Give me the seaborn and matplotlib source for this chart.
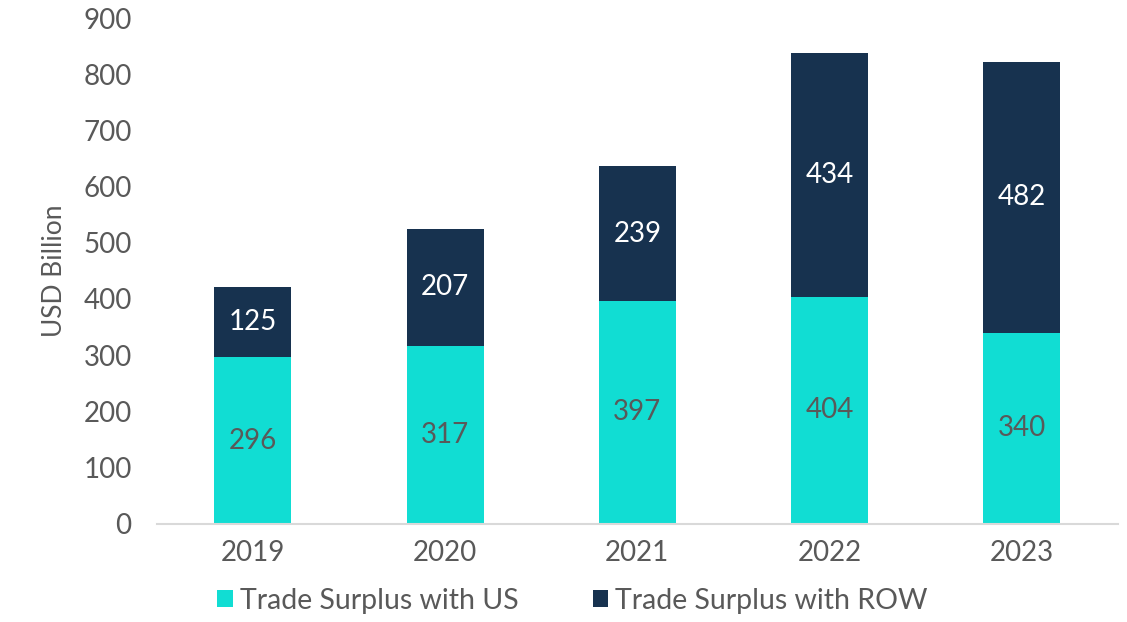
import numpy as np
import pandas as pd
import matplotlib
matplotlib.use('Agg')
import matplotlib.pyplot as plt
import seaborn as sns

sns.set_theme(style='white')
plt.rcParams['font.family'] = ['Lato', 'DejaVu Sans']

years = ['2019', '2020', '2021', '2022', '2023']
surplus_us = [296, 317, 397, 404, 340]
surplus_row = [125, 207, 239, 434, 482]

teal = '#11DDD3'
navy = '#17324F'
grey = '#595959'

df = pd.DataFrame({'year': years, 'us': surplus_us, 'row': surplus_row})

fig = plt.figure(figsize=(11.27, 6.22), dpi=100)
ax = fig.add_axes([0.139, 0.158, 0.853, 0.813])

sns.barplot(data=df, x='year', y='us', color=teal, width=0.4, saturation=1,
            linewidth=0, ax=ax, label='Trade Surplus with US')
sns.barplot(data=df, x='year', y='row', color=navy, width=0.4, saturation=1,
            linewidth=0, bottom=df['us'], ax=ax, label='Trade Surplus with ROW')

ax.bar_label(ax.containers[0], label_type='center', color=grey, fontsize=20)
ax.bar_label(ax.containers[1], label_type='center', color='white', fontsize=20)

ax.set_ylim(0, 900)
ax.set_xlim(-0.5, 4.5)
ax.set_yticks(range(0, 901, 100))
ax.tick_params(axis='both', labelsize=20, labelcolor=grey, length=0)
ax.tick_params(axis='x', pad=12)
ax.tick_params(axis='y', pad=18)
ax.set_xlabel('')
ax.set_ylabel('USD Billion', fontsize=19, color=grey, labelpad=12)

for s in ['top', 'right', 'left']:
    ax.spines[s].set_visible(False)
ax.spines['bottom'].set_color('#D9D9D9')
ax.spines['bottom'].set_linewidth(1.5)
if ax.legend_:
    ax.legend_.remove()

handles, labels = ax.get_legend_handles_labels()
fig.legend(handles, labels, loc='lower center', bbox_to_anchor=(0.508, -0.028),
           ncol=2, frameon=False, fontsize=20.5, labelcolor=grey,
           handlelength=0.55, handleheight=0.55, handletextpad=0.25, columnspacing=2.6)

fig.savefig('out.png', dpi=100)
